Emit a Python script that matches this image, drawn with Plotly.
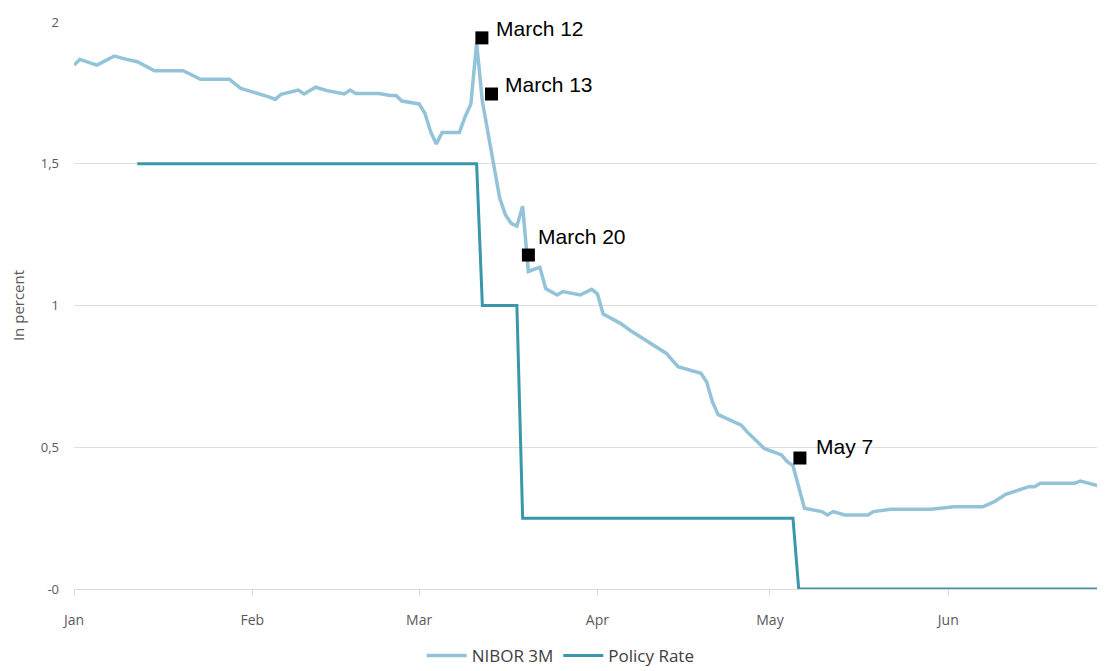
import plotly.graph_objects as go

# NIBOR 3M
nibor_dates = [
    "2020-01-01", "2020-01-02", "2020-01-05", "2020-01-08", "2020-01-10", "2020-01-12",
    "2020-01-15", "2020-01-20", "2020-01-23", "2020-01-28", "2020-01-30", "2020-02-03",
    "2020-02-04", "2020-02-05", "2020-02-06", "2020-02-09", "2020-02-10", "2020-02-12",
    "2020-02-14", "2020-02-17", "2020-02-18", "2020-02-19", "2020-02-23", "2020-02-25",
    "2020-02-26", "2020-02-27", "2020-03-01", "2020-03-02", "2020-03-03", "2020-03-04",
    "2020-03-05", "2020-03-08", "2020-03-09", "2020-03-10", "2020-03-11", "2020-03-12",
    "2020-03-13", "2020-03-14", "2020-03-15", "2020-03-16", "2020-03-17", "2020-03-18",
    "2020-03-19", "2020-03-20", "2020-03-22", "2020-03-23", "2020-03-25", "2020-03-26",
    "2020-03-29", "2020-03-31", "2020-04-01", "2020-04-02", "2020-04-05", "2020-04-07",
    "2020-04-13", "2020-04-15", "2020-04-16", "2020-04-19", "2020-04-20", "2020-04-21",
    "2020-04-22", "2020-04-26", "2020-04-27", "2020-04-29", "2020-04-30", "2020-05-03",
    "2020-05-04", "2020-05-05", "2020-05-06", "2020-05-07", "2020-05-10", "2020-05-11",
    "2020-05-12", "2020-05-14", "2020-05-18", "2020-05-19", "2020-05-22", "2020-05-29",
    "2020-06-02", "2020-06-07", "2020-06-09", "2020-06-11", "2020-06-14", "2020-06-15",
    "2020-06-16", "2020-06-17", "2020-06-23", "2020-06-24", "2020-06-26", "2020-06-28",
]
nibor_values = [
    1.848, 1.868, 1.848, 1.880, 1.869, 1.860,
    1.828, 1.828, 1.798, 1.798, 1.766, 1.743,
    1.735, 1.727, 1.745, 1.760, 1.746, 1.770,
    1.758, 1.746, 1.760, 1.748, 1.748, 1.741,
    1.741, 1.721, 1.711, 1.678, 1.613, 1.570,
    1.610, 1.610, 1.666, 1.711, 1.925, 1.720,
    1.610, 1.500, 1.380, 1.320, 1.290, 1.280,
    1.350, 1.120, 1.135, 1.060, 1.037, 1.049,
    1.037, 1.057, 1.041, 0.970, 0.937, 0.908,
    0.831, 0.784, 0.778, 0.761, 0.730, 0.660,
    0.615, 0.578, 0.555, 0.514, 0.496, 0.473,
    0.449, 0.435, 0.360, 0.285, 0.273, 0.261,
    0.273, 0.261, 0.261, 0.273, 0.281, 0.281,
    0.290, 0.290, 0.308, 0.334, 0.354, 0.361,
    0.361, 0.373, 0.373, 0.381, 0.370, 0.359,
]

# Policy rate
policy_dates = ["2020-01-12", "2020-03-11", "2020-03-12", "2020-03-18", "2020-03-19",
                "2020-05-05", "2020-05-06", "2020-06-28"]
policy_values = [1.5, 1.5, 1.0, 1.0, 0.25, 0.25, 0.0, 0.0]

# Event markers
marker_dates = ["2020-03-11 22:00", "2020-03-13 14:00", "2020-03-20 00:00", "2020-05-06 05:00"]
marker_values = [1.944, 1.746, 1.178, 0.462]
marker_labels = ["March 12", "March 13", "March 20", "May 7"]
label_shifts = [(12, 9), (12, 10), (8, 19), (14, 12)]

y_tickvals = [0, 0.5, 1, 1.5, 2]
y_ticktext = ["-0", "0,5", "1", "1,5", "2"]
x_tickvals = ["2020-01-01", "2020-02-01", "2020-03-01", "2020-04-01", "2020-05-01", "2020-06-01"]
x_ticktext = ["Jan", "Feb", "Mar", "Apr", "May", "Jun"]

fig = go.Figure()
fig.add_trace(go.Scatter(x=nibor_dates, y=nibor_values, mode="lines", name="NIBOR 3M",
                         line=dict(color="#93c3d8", width=3.5)))
fig.add_trace(go.Scatter(x=policy_dates, y=policy_values, mode="lines", name="Policy Rate",
                         line=dict(color="#3a97ab", width=3)))
fig.add_trace(go.Scatter(x=marker_dates, y=marker_values, mode="markers", showlegend=False,
                         marker=dict(symbol="square", size=13, color="black")))

for d, v, t, (dx, dy) in zip(marker_dates, marker_values, marker_labels, label_shifts):
    fig.add_annotation(x=d, y=v, text=t, showarrow=False, xanchor="left", yanchor="middle",
                       xshift=dx, yshift=dy,
                       font=dict(family="Liberation Sans, Arial", size=21, color="black"))

fig.update_layout(
    width=1105, height=671,
    margin=dict(l=66, r=8, t=14, b=90, autoexpand=False),
    paper_bgcolor="white", plot_bgcolor="white",
    font=dict(family="Open Sans", color="#595959", size=13),
    legend=dict(orientation="h", x=0.472, xanchor="center", y=-0.118, yanchor="middle",
                font=dict(size=17, color="#404040"), itemwidth=40, tracegroupgap=0),
)
fig.update_xaxes(
    type="date", range=["2020-01-01", "2020-06-28 06:00"],
    tickvals=x_tickvals, ticktext=x_ticktext, automargin=False,
    showgrid=False, showline=True, linecolor="#d9d9d9", linewidth=1,
    ticks="outside", tickcolor="#d9d9d9", ticklen=6, ticklabelstandoff=12,
    tickfont=dict(size=14, color="#595959"), zeroline=False,
)
fig.update_yaxes(
    range=[0, 2], tickvals=y_tickvals, ticktext=y_ticktext, automargin=False,
    showgrid=True, gridcolor="#dedede", gridwidth=1, zeroline=False,
    ticks="", ticklabelstandoff=14,
    tickfont=dict(size=13, color="#595959"),
    title=dict(text="In percent", font=dict(size=15, color="#595959"), standoff=18),
)

fig.write_html("out.html")
